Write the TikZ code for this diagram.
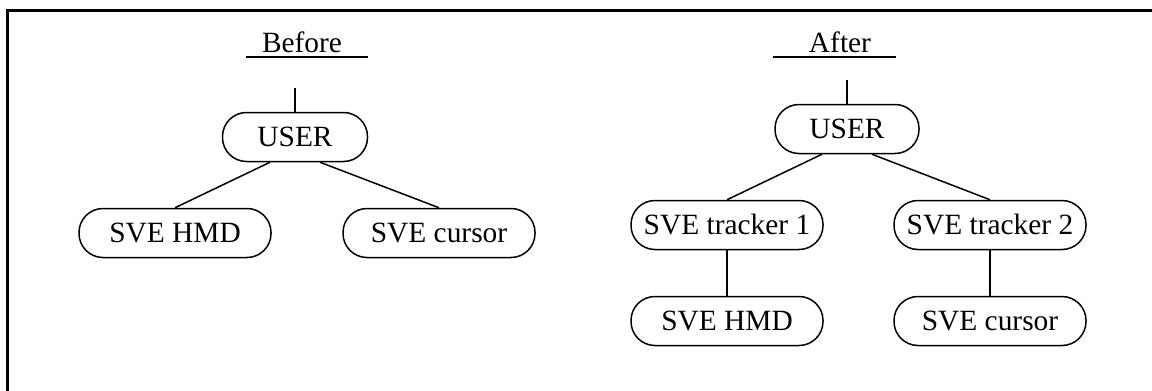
\documentclass[tikz,border=0pt]{standalone}
\usepackage{fontspec}
\setmainfont{Liberation Serif}

\tikzset{
  treenode/.style={draw, line width=0.75pt, rounded corners=12pt,
    minimum width=96pt, minimum height=24.5pt, inner sep=0pt,
    font=\fontsize{14.7}{17}\selectfont},
  title/.style={anchor=base, inner sep=0pt, font=\fontsize{14.7}{17}\selectfont},
  link/.style={line width=0.75pt}
}

\begin{document}
\begin{tikzpicture}[x=0.5pt, y=-0.5pt]
  \useasboundingbox (0,0) rectangle (1152,391);
  \clip (0,0) rectangle (1152,391);
  % frame
  \draw [line width=1.5pt] (7,10) rectangle (1200,440);
  % Before
  \node [title] (tb) at (302,53) {Before};
  \draw [line width=1pt] (246,57) -- (368,57);
  \coordinate (sb) at (295,88);
  \node [treenode, minimum width=72.5pt] (ub) at (295,137) {USER};
  \node [treenode] (hb) at (175,233) {SVE HMD};
  \node [treenode] (cb) at (439,233) {SVE cursor};
  \draw [link] (sb) -- (ub);
  \draw [link] ([xshift=-12.5pt]ub.south) -- (hb.north);
  \draw [link] ([xshift=12.5pt]ub.south) -- (cb.north);
  % After
  \node [title] (ta) at (840,53) {After};
  \draw [line width=1pt] (773,57) -- (896,57);
  \coordinate (sa) at (847,80);
  \node [treenode, minimum width=72pt] (ua) at (847,129) {USER};
  \node [treenode] (ka) at (727,225) {SVE tracker 1};
  \node [treenode] (la) at (990,225) {SVE tracker 2};
  \node [treenode] (ha) at (727,321) {SVE HMD};
  \node [treenode] (ca) at (990,321) {SVE cursor};
  \draw [link] (sa) -- (ua);
  \draw [link] ([xshift=-12.5pt]ua.south) -- (ka.north);
  \draw [link] ([xshift=12.5pt]ua.south) -- (la.north);
  \draw [link] (ka) -- (ha);
  \draw [link] (la) -- (ca);
\end{tikzpicture}
\end{document}
